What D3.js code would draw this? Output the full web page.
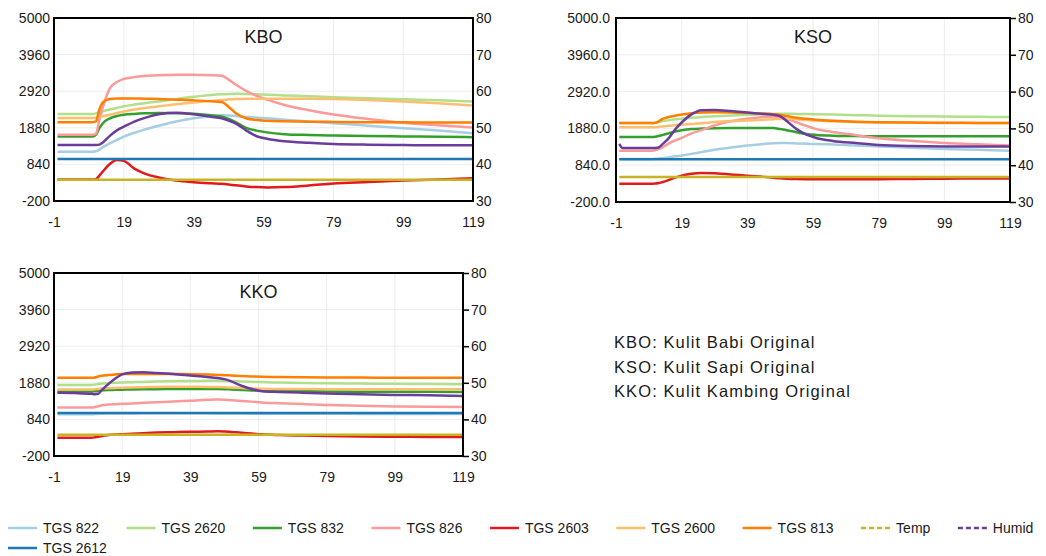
<!DOCTYPE html>
<html>
<head>
<meta charset="utf-8">
<script src="https://cdn.jsdelivr.net/npm/d3@7"></script>
<style>
  body { margin: 0; background: #fff; font-family: "Liberation Sans", Arial, sans-serif; }
</style>
</head>
<body>
<div id="chart"></div>
<script>
const timeSteps = [0, 1, 5, 10, 11, 12, 13, 15, 17, 19, 22, 25, 29, 34, 39, 44, 47, 49, 51, 54, 57, 60, 65, 72, 79, 89, 99, 109, 119];

// legend order (also draw order)
const sensorNames = ["TGS 822", "TGS 2620", "TGS 832", "TGS 826", "TGS 2603", "TGS 2600", "TGS 813", "Temp", "Humid", "TGS 2612"];
const sensorColors = ["#a6cee3", "#b2df8a", "#33a02c", "#fb9a99", "#e31a1c", "#fdbf6f", "#ff7f00", "#c8b423", "#6a3d9a", "#1f78b4"];
const rightAxisSensors = ["Temp", "Humid"];

const leftTicks = [-200, 840, 1880, 2920, 3960, 5000];
const rightTicks = [30, 40, 50, 60, 70, 80];
const xTicks = [-1, 19, 39, 59, 79, 99, 119];

const notes = ["KBO: Kulit Babi Original", "KSO: Kulit Sapi Original", "KKO: Kulit Kambing Original"];

// KBO
const kbo822  = [1200,1200,1200,1200,1215,1260,1330,1440,1540,1630,1740,1830,1940,2060,2150,2210,2235,2230,2215,2190,2170,2150,2110,2060,2010,1940,1870,1800,1726];
const kbo2620 = [2275,2275,2275,2275,2290,2320,2350,2400,2445,2490,2540,2580,2630,2700,2760,2810,2830,2840,2845,2840,2830,2820,2800,2775,2750,2720,2690,2660,2630];
const kbo832  = [1635,1635,1635,1635,1680,1870,2010,2150,2215,2250,2275,2290,2300,2295,2280,2240,2200,2130,2040,1880,1800,1750,1700,1675,1660,1645,1635,1625,1615];
const kbo826  = [1680,1680,1680,1680,1710,2100,2470,3000,3180,3270,3320,3350,3375,3385,3385,3375,3360,3250,3110,2930,2790,2680,2530,2380,2260,2130,2020,1950,1890];
const kbo2603 = [410,410,410,410,420,520,640,850,965,940,720,580,470,380,335,305,290,270,245,215,195,185,195,240,300,340,380,410,445];
const kbo2600 = [2155,2155,2155,2155,2165,2185,2205,2250,2300,2345,2400,2440,2490,2550,2600,2645,2670,2685,2695,2705,2708,2708,2708,2705,2695,2670,2630,2580,2515];
const kbo813  = [2040,2040,2040,2040,2060,2400,2600,2700,2715,2715,2712,2705,2698,2680,2660,2635,2615,2480,2300,2150,2100,2080,2065,2055,2048,2040,2035,2032,2030];
const kboTemp = [35.8,35.8,35.8,35.8,35.8,35.8,35.8,35.8,35.8,35.8,35.8,35.8,35.8,35.8,35.8,35.8,35.8,35.8,35.8,35.8,35.8,35.8,35.8,35.8,35.8,35.8,35.8,35.8,35.8];
const kboHumid = [45.3,45.3,45.3,45.3,45.3,45.4,46.0,47.8,49.3,50.3,51.7,52.7,53.7,54.1,53.7,53.0,52.6,52.0,51.2,49.3,47.7,47.0,46.3,45.9,45.6,45.4,45.3,45.2,45.2];
const kbo2612 = [990,990,990,990,990,990,990,990,990,990,990,990,990,990,990,990,990,990,990,990,990,990,990,990,990,990,990,990,990];

// KSO
const kso822  = [1015,1015,1015,1015,1020,1030,1040,1060,1090,1115,1160,1210,1275,1340,1395,1440,1460,1465,1465,1455,1445,1440,1425,1400,1370,1330,1300,1275,1250];
const kso2620 = [2033,2033,2033,2033,2040,2060,2080,2110,2135,2150,2180,2200,2220,2245,2265,2280,2290,2295,2295,2290,2285,2280,2270,2255,2240,2225,2215,2208,2202];
const kso832  = [1637,1637,1637,1637,1645,1665,1690,1740,1790,1825,1860,1875,1885,1890,1890,1890,1888,1860,1830,1770,1720,1695,1675,1662,1658,1656,1655,1655,1655];
const kso826  = [1250,1250,1250,1250,1265,1300,1340,1450,1540,1610,1740,1830,1960,2080,2150,2200,2215,2200,2150,2050,1950,1860,1780,1690,1600,1530,1468,1430,1400];
const kso2603 = [317,317,317,317,320,335,360,420,490,545,600,620,610,580,540,510,485,470,460,450,445,443,440,440,445,452,458,463,467];
const kso2600 = [1910,1910,1910,1910,1915,1925,1935,1955,1970,1985,2005,2025,2060,2085,2105,2125,2140,2148,2150,2140,2120,2100,2080,2060,2048,2040,2035,2033,2030];
const kso813  = [2033,2033,2033,2033,2040,2080,2140,2200,2240,2270,2310,2330,2335,2330,2318,2300,2280,2262,2230,2180,2150,2125,2095,2065,2052,2045,2040,2035,2033];
const ksoTemp = [36.8,36.8,36.8,36.8,36.8,36.8,36.8,36.8,36.8,36.8,36.8,36.8,36.8,36.8,36.8,36.8,36.8,36.8,36.8,36.8,36.8,36.8,36.8,36.8,36.8,36.8,36.8,36.8,36.8];
const ksoHumid = [45.8,44.7,44.7,44.7,44.7,44.8,45.6,47.3,49.7,51.6,53.8,54.9,55.0,54.7,54.3,53.9,53.7,53.3,52.0,49.8,48.3,47.4,46.6,46.0,45.5,45.2,45.1,45.1,45.1];
const kso2612 = [1005,1005,1005,1005,1005,1005,1005,1005,1005,1005,1005,1005,1005,1005,1005,1005,1005,1005,1005,1005,1005,1005,1005,1005,1005,1005,1005,1005,1005];

// KKO
const kko822  = [985,985,985,985,990,995,1000,1005,1008,1010,1010,1012,1012,1012,1012,1012,1010,1010,1008,1005,1003,1000,1000,998,998,996,995,995,995];
const kko2620 = [1821,1821,1821,1821,1830,1845,1860,1872,1880,1888,1898,1906,1915,1925,1932,1935,1935,1933,1928,1920,1910,1900,1888,1875,1865,1858,1850,1845,1840];
const kko832  = [1631,1631,1631,1631,1640,1655,1665,1675,1680,1685,1690,1695,1700,1705,1707,1706,1705,1700,1690,1675,1662,1655,1645,1638,1632,1628,1625,1623,1622];
const kko826  = [1176,1176,1176,1176,1190,1215,1240,1260,1272,1282,1295,1310,1328,1348,1372,1395,1403,1400,1385,1365,1345,1322,1300,1275,1252,1228,1210,1200,1195];
const kko2603 = [322,322,322,322,330,345,370,395,410,420,435,450,465,478,488,495,500,498,485,460,440,415,395,380,368,355,348,343,341];
const kko2600 = [1690,1690,1690,1690,1695,1705,1715,1725,1735,1742,1750,1756,1762,1765,1765,1763,1760,1755,1745,1730,1718,1710,1705,1703,1700,1700,1698,1698,1698];
const kko813  = [2020,2020,2020,2020,2030,2060,2080,2100,2118,2130,2133,2133,2130,2128,2125,2115,2105,2095,2088,2075,2062,2052,2045,2038,2033,2028,2025,2022,2020];
const kkoTemp = [35.8,35.8,35.8,35.8,35.8,35.8,35.8,35.8,35.8,35.8,35.8,35.8,35.8,35.8,35.8,35.8,35.8,35.8,35.8,35.8,35.8,35.8,35.8,35.8,35.8,35.8,35.8,35.8,35.8];
const kkoHumid = [47.3,47.3,47.2,47.0,46.9,47.0,48.0,49.7,51.2,52.3,52.8,52.9,52.7,52.4,52.0,51.6,51.3,51.0,50.4,49.2,48.3,47.7,47.5,47.3,47.1,46.9,46.7,46.6,46.4];
const kko2612 = [1020,1020,1020,1020,1020,1020,1020,1020,1020,1020,1020,1020,1020,1020,1020,1020,1020,1020,1020,1020,1020,1020,1020,1020,1020,1020,1020,1020,1020];

const panels = [
  { title: "KBO", box: { l: 54, r: 473, t: 18, b: 201 }, decimals: 0, rightTick: 0, leftPad: 4,
    series: [kbo822, kbo2620, kbo832, kbo826, kbo2603, kbo2600, kbo813, kboTemp, kboHumid, kbo2612] },
  { title: "KSO", box: { l: 616, r: 1010, t: 18, b: 202 }, decimals: 1, rightTick: 6, leftPad: 6,
    series: [kso822, kso2620, kso832, kso826, kso2603, kso2600, kso813, ksoTemp, ksoHumid, kso2612] },
  { title: "KKO", box: { l: 54, r: 463, t: 273, b: 456 }, decimals: 0, rightTick: 6, leftPad: 4,
    series: [kko822, kko2620, kko832, kko826, kko2603, kko2600, kko813, kkoTemp, kkoHumid, kko2612] }
];

const svg = d3.select("#chart").append("svg")
  .attr("width", 1046)
  .attr("height", 556);

const textColor = "#1a1a1a";

panels.forEach(function (p, pi) {
  let b = p.box;
  let x = d3.scaleLinear().domain([-1, 119]).range([b.l, b.r]);
  let yL = d3.scaleLinear().domain([-200, 5000]).range([b.b, b.t]);
  let yR = d3.scaleLinear().domain([30, 80]).range([b.b, b.t]);

  let g = svg.append("g");

  // grid
  g.selectAll(".vg").data(xTicks).enter().append("line")
    .attr("x1", d => x(d)).attr("x2", d => x(d))
    .attr("y1", b.t).attr("y2", b.b)
    .attr("stroke", "#ececec").attr("stroke-width", 1);
  g.selectAll(".hg").data(leftTicks).enter().append("line")
    .attr("x1", b.l).attr("x2", b.r)
    .attr("y1", d => yL(d)).attr("y2", d => yL(d))
    .attr("stroke", "#ececec").attr("stroke-width", 1);

  // clip
  svg.append("clipPath").attr("id", "clip" + pi)
    .append("rect")
    .attr("x", b.l).attr("y", b.t)
    .attr("width", b.r - b.l).attr("height", b.b - b.t);

  let lines = g.append("g").attr("clip-path", "url(#clip" + pi + ")");
  p.series.forEach(function (vals, si) {
    let name = sensorNames[si];
    let y = rightAxisSensors.includes(name) ? yR : yL;
    let line = d3.line()
      .x((d, i) => x(timeSteps[i]))
      .y(d => y(d))
      .curve(d3.curveMonotoneX);
    lines.append("path")
      .datum(vals)
      .attr("fill", "none")
      .attr("stroke", sensorColors[si])
      .attr("stroke-width", 2.5)
      .attr("stroke-linejoin", "round")
      .attr("d", line);
  });

  // border
  g.append("rect")
    .attr("x", b.l).attr("y", b.t)
    .attr("width", b.r - b.l).attr("height", b.b - b.t)
    .attr("fill", "none").attr("stroke", "#000").attr("stroke-width", 2);

  // axes (plain hyphen minus like the original)
  let left = g.append("g").attr("transform", "translate(" + b.l + ",0)")
    .call(d3.axisLeft(yL).tickValues(leftTicks).tickSize(0).tickPadding(p.leftPad)
      .tickFormat(d => d.toFixed(p.decimals)));
  let right = g.append("g").attr("transform", "translate(" + b.r + ",0)")
    .call(d3.axisRight(yR).tickValues(rightTicks).tickSize(p.rightTick).tickPadding(p.rightTick ? 2 : 3)
      .tickFormat(d => String(d)));
  let bottom = g.append("g").attr("transform", "translate(0," + b.b + ")")
    .call(d3.axisBottom(x).tickValues(xTicks).tickSize(0).tickPadding(16)
      .tickFormat(d => String(d)));

  [left, right, bottom].forEach(function (a) {
    a.select(".domain").remove();
    a.selectAll("text")
      .attr("font-family", "'Liberation Sans', Arial, sans-serif")
      .attr("font-size", 14)
      .attr("fill", textColor);
    a.selectAll("line").attr("stroke", "#000").attr("stroke-width", 1.5);
  });

  // title
  g.append("text")
    .attr("x", (b.l + b.r) / 2)
    .attr("y", b.t + 25)
    .attr("text-anchor", "middle")
    .attr("font-size", 18)
    .attr("fill", textColor)
    .text(p.title);
});

// notes
svg.append("g").selectAll("text").data(notes).enter().append("text")
  .attr("x", 614)
  .attr("y", (d, i) => 348 + i * 24.5)
  .attr("font-size", 16.5)
  .attr("letter-spacing", 1.1)
  .attr("fill", textColor)
  .text(d => d);

// legend
let legend = svg.append("g");
let lx = 8, ly = 528;
sensorNames.forEach(function (name, i) {
  let item = legend.append("g");
  item.append("line")
    .attr("x1", 0).attr("x2", 29)
    .attr("y1", 0).attr("y2", 0)
    .attr("stroke", sensorColors[i])
    .attr("stroke-width", 2.5)
    .attr("stroke-dasharray", rightAxisSensors.includes(name) ? "5,3" : null);
  let t = item.append("text")
    .attr("x", 35).attr("y", 5)
    .attr("font-size", 14)
    .attr("fill", textColor)
    .text(name);
  let w = 35 + t.node().getComputedTextLength();
  if (lx + w > 1040) { lx = 8; ly += 20; }
  item.attr("transform", "translate(" + lx + "," + ly + ")");
  lx += w + 27.5;
});
</script>
</body>
</html>
